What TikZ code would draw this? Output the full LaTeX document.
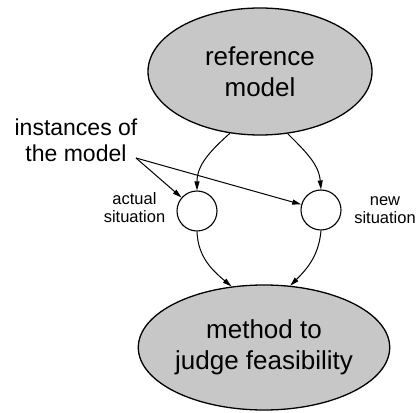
\documentclass[tikz,border=0pt]{standalone}
\usepackage{fontspec}
\setmainfont{Liberation Sans}
\usetikzlibrary{arrows.meta,shapes.geometric}

\begin{document}
\begin{tikzpicture}[x=1pt,y=1pt,
  blob/.style={ellipse, draw, line width=1.3pt, fill=black!22,
    inner sep=0pt, align=center, font=\fontsize{26}{31}\selectfont},
  inst/.style={circle, draw, line width=1.1pt, fill=white,
    minimum size=40pt, inner sep=0pt},
  lbl/.style={align=center, font=\fontsize{16.5}{18}\selectfont},
  flow/.style={line width=1pt, -{Triangle[length=9pt,width=5pt]}},
]
\useasboundingbox (0,0) rectangle (417,412);

% the two main models
\node[blob, minimum width=224pt, minimum height=127pt] (ref) at (260,340.5)
  {reference\\model};
\node[blob, minimum width=222pt, minimum height=125pt] (meth) at (264,64.5)
  {method to\\judge feasibility};

% the two instances
\node[inst] (act) at (197,201) {};
\node[inst] (new) at (321,202) {};
\node[lbl] (actl) at (134.5,204)  {actual\\situation};
\node[lbl] (newl) at (385,202.3) {new\\situation};

% annotation
\node[align=center, font=\fontsize{23}{26}\selectfont] (instl) at (76,271.4)
  {instances of\\the model};
\coordinate (ptr) at (136,254);

% flow from reference model through the instances to the method
\draw[flow] (ref.244) to[out=222, in=90] (act.north);
\draw[flow] (ref.294.5) to[out=-45, in=95] (new.north);
\draw[flow] (act.south) to[out=-88, in=140] (meth.118);
\draw[flow] (new.south) to[out=-95, in=45] (meth.67);

% pointers from the annotation
\draw[flow] (ptr) -- (act);
\draw[flow] (ptr) -- (new);
\end{tikzpicture}
\end{document}
